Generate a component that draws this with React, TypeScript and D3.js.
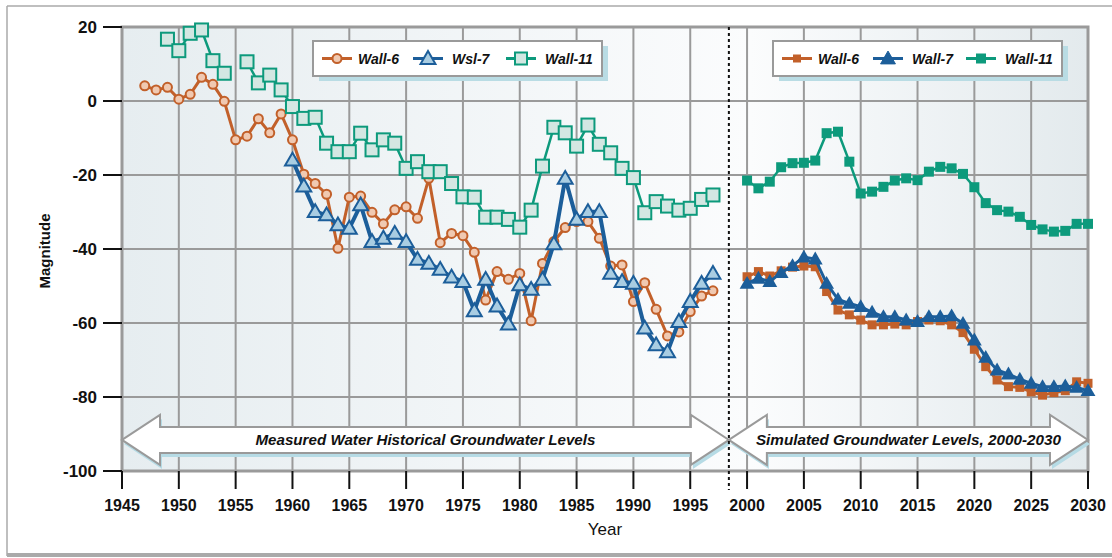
import React from "react";
import * as d3 from "d3";

// measured (historical) series
const histYears6 = [
  1947, 1948, 1949, 1950, 1951, 1952, 1953, 1954, 1955, 1956, 1957, 1958, 1959,
  1960, 1961, 1962, 1963, 1964, 1965, 1966, 1967, 1968, 1969, 1970, 1971, 1972,
  1973, 1974, 1975, 1976, 1977, 1978, 1979, 1980, 1981, 1982, 1983, 1984, 1985,
  1986, 1987, 1988, 1989, 1990, 1991, 1992, 1993, 1994, 1995, 1996, 1997,
];
const histWall6 = [
  4.1, 3.0, 3.7, 0.5, 1.8, 6.4, 4.5, -0.1, -10.5, -9.5, -4.8, -8.6, -3.5,
  -10.5, -19.8, -22.3, -25.2, -39.8, -26.0, -25.7, -30.1, -33.2, -29.4, -28.6,
  -31.7, -20.9, -38.3, -35.8, -36.4, -40.9, -53.8, -46.1, -48.2, -46.6, -59.4,
  -43.9, -38.0, -34.2, -32.6, -32.6, -37.1, -44.6, -44.3, -54.2, -49.1, -56.3,
  -63.5, -62.4, -56.9, -52.7, -51.3,
];

const histYears7 = [
  1960, 1961, 1962, 1963, 1964, 1965, 1966, 1967, 1968, 1969, 1970, 1971, 1972,
  1973, 1974, 1975, 1976, 1977, 1978, 1979, 1980, 1981, 1982, 1983, 1984, 1985,
  1986, 1987, 1988, 1989, 1990, 1991, 1992, 1993, 1994, 1995, 1996, 1997,
];
const histWall7 = [
  -16.0, -23.0, -29.9, -30.8, -33.5, -34.4, -28.1, -38.0, -37.1, -35.8, -38.0,
  -42.8, -43.9, -45.5, -47.6, -48.8, -56.7, -48.2, -55.4, -60.3, -49.7, -50.9,
  -48.2, -38.6, -20.9, -32.0, -29.9, -29.9, -46.6, -48.8, -49.3, -61.4, -65.9,
  -67.8, -59.6, -54.2, -49.3, -46.6,
];

const histYears11 = [
  1949, 1950, 1951, 1952, 1953, 1954, 1955, 1956, 1957, 1958, 1959, 1960, 1961,
  1962, 1963, 1964, 1965, 1966, 1967, 1968, 1969, 1970, 1971, 1972, 1973, 1974,
  1975, 1976, 1977, 1978, 1979, 1980, 1981, 1982, 1983, 1984, 1985, 1986, 1987,
  1988, 1989, 1990, 1991, 1992, 1993, 1994, 1995, 1996, 1997,
];
const histWall11: (number | null)[] = [
  16.7, 13.6, 18.3, 19.2, 10.9, 7.5, null, 10.6, 4.9, 7.0, 3.0, -1.5, -4.7,
  -4.4, -11.4, -13.7, -13.7, -8.7, -13.2, -10.5, -11.4, -18.2, -16.4, -19.1,
  -19.1, -22.3, -25.9, -26.0, -31.4, -31.4, -32.0, -34.1, -29.5, -17.6, -7.1,
  -8.6, -12.2, -6.5, -11.7, -14.0, -18.2, -20.7, -30.2, -27.2, -28.4, -29.5,
  -29.0, -26.6, -25.4,
];

// simulated series
const simYears = [
  2000, 2001, 2002, 2003, 2004, 2005, 2006, 2007, 2008, 2009, 2010, 2011, 2012,
  2013, 2014, 2015, 2016, 2017, 2018, 2019, 2020, 2021, 2022, 2023, 2024, 2025,
  2026, 2027, 2028, 2029, 2030,
];
const simWall6 = [
  -47.5, -46.1, -47.3, -45.9, -44.9, -44.6, -44.8, -51.5, -56.5, -57.8, -59.2,
  -60.5, -60.5, -60.3, -60.5, -59.6, -59.2, -59.4, -60.5, -62.6, -67.1, -71.8,
  -75.4, -77.2, -77.4, -78.6, -79.5, -78.8, -78.3, -75.9, -76.3,
];
const simWall7 = [
  -49.3, -47.9, -48.8, -46.4, -44.5, -42.2, -42.7, -49.3, -53.6, -54.7, -55.6,
  -57.1, -58.3, -58.3, -59.2, -59.6, -58.3, -58.3, -58.1, -60.1, -64.6, -69.3,
  -72.7, -73.8, -75.2, -76.3, -77.2, -77.2, -77.0, -77.4, -78.3,
];
const simWall11 = [
  -21.5, -23.6, -21.8, -17.9, -16.8, -16.7, -16.1, -8.7, -8.3, -16.4, -25.0,
  -24.5, -23.2, -21.5, -20.9, -21.4, -19.1, -17.8, -18.2, -19.7, -23.3, -27.6,
  -29.5, -29.9, -31.3, -33.5, -34.7, -35.3, -35.1, -33.2, -33.2,
];

const xTicks = [1945, 1950, 1955, 1960, 1965, 1970, 1975, 1980, 1985, 1990, 1995, 2000, 2005, 2010, 2015, 2020, 2025, 2030];
const yTicks = [20, 0, -20, -40, -60, -80, -100];
const histLegend = ["Wall-6", "Wsl-7", "Wall-11"];
const simLegend = ["Wall-6", "Wall-7", "Wall-11"];
const histLabel = "Measured Water Historical Groundwater Levels";
const simLabel = "Simulated Groundwater Levels, 2000-2030";
const breakYear = 1998.4;
const arrowLevel = -91.6;

const ORANGE = "#c2602a";
const BLUE = "#1c5e9a";
const TEAL = "#0d9a7c";
const GRID = "#9a9a9a";
const FONT = "'Liberation Sans', Arial, sans-serif";

type Pt = { x: number; v: number | null };
const zip = (xs: number[], vs: (number | null)[]): Pt[] => xs.map((x, i) => ({ x, v: vs[i] }));

const App: React.FC = () => {
  const W = 1112;
  const H = 558;
  const left = 122, right = 1088, top = 27, bottom = 471;

  const x = d3.scaleLinear().domain([1945, 2030]).range([left, right]);
  const y = d3.scaleLinear().domain([-100, 20]).range([bottom, top]);

  const line = d3
    .line<Pt>()
    .defined((d) => d.v !== null)
    .x((d) => x(d.x))
    .y((d) => y(d.v as number));

  const h6 = zip(histYears6, histWall6);
  const h7 = zip(histYears7, histWall7);
  const h11 = zip(histYears11, histWall11);
  const s6 = zip(simYears, simWall6);
  const s7 = zip(simYears, simWall7);
  const s11 = zip(simYears, simWall11);

  const tri = (cx: number, cy: number, s: number) =>
    `M${cx},${cy - s * 0.62}L${cx + s * 0.62},${cy + s * 0.45}L${cx - s * 0.62},${cy + s * 0.45}Z`;

  const arrow = (x0: number, x1: number, cy: number) => {
    const L = 38, hh = 13, HH = 25;
    return `M${x0},${cy}L${x0 + L},${cy - HH}L${x0 + L},${cy - hh}L${x1 - L},${cy - hh}L${x1 - L},${cy - HH}L${x1},${cy}L${x1 - L},${cy + HH}L${x1 - L},${cy + hh}L${x0 + L},${cy + hh}L${x0 + L},${cy + HH}Z`;
  };

  const cy = y(arrowLevel);
  const xb = x(breakYear);

  const legend = (lx: number, labels: string[], filled: boolean) => {
    const items = [
      { c: ORANGE, off: 9, tx: 45 },
      { c: BLUE, off: 100, tx: 139 },
      { c: TEAL, off: 193, tx: 232 },
    ];
    return (
      <g>
        <rect x={lx + 6} y={46} width={289} height={35} fill="#b9dce4" />
        <rect x={lx} y={41} width={289} height={35} fill="#fff" stroke="#9a9a9a" strokeWidth={2} />
        {items.map((it, i) => {
          const mx = lx + it.off + 15;
          const my = 58.5;
          return (
            <g key={i}>
              <line x1={lx + it.off} x2={lx + it.off + 30} y1={my} y2={my} stroke={it.c} strokeWidth={3} />
              {i === 0 &&
                (filled ? (
                  <rect x={mx - 4} y={my - 4} width={8} height={8} fill={ORANGE} />
                ) : (
                  <circle cx={mx} cy={my} r={4.5} fill="#f0c9b1" stroke={ORANGE} strokeWidth={2} />
                ))}
              {i === 1 && (
                <path d={tri(mx, my, 12)} fill={filled ? BLUE : "#a9cde2"} stroke={BLUE} strokeWidth={filled ? 1 : 2} />
              )}
              {i === 2 &&
                (filled ? (
                  <rect x={mx - 5} y={my - 5} width={10} height={10} fill={TEAL} />
                ) : (
                  <rect x={mx - 6} y={my - 6} width={12} height={12} fill="#d3e7e2" stroke={TEAL} strokeWidth={2} />
                ))}
              <text
                x={lx + it.tx}
                y={my + 5}
                fontFamily={FONT}
                fontStyle="italic"
                fontWeight="bold"
                fontSize={14}
                fill="#111"
              >
                {labels[i]}
              </text>
            </g>
          );
        })}
      </g>
    );
  };

  return (
    <svg width={W} height={H} style={{ position: "absolute", left: 0, top: 0 }}>
      <defs>
        <linearGradient id="bg" x1="0" x2="1" y1="0" y2="0">
          <stop offset="0" stopColor="#e6edf0" />
          <stop offset="0.65" stopColor="#fbfcfd" />
          <stop offset="1" stopColor="#e3eaed" />
        </linearGradient>
      </defs>
      <rect width={W} height={H} fill="#fff" />
      {/* outer frame */}
      <line x1={7} x2={W} y1={6} y2={6} stroke="#aaa" strokeWidth={1.5} />
      <line x1={7} x2={7} y1={6} y2={556} stroke="#aaa" strokeWidth={1.5} />
      <line x1={7} x2={W} y1={555} y2={555} stroke="#aaa" strokeWidth={4} />

      {/* plot background */}
      <rect x={left} y={top} width={right - left} height={bottom - top} fill="url(#bg)" />

      {/* grid */}
      {xTicks.slice(1, -1).map((t) => (
        <line key={"gx" + t} x1={x(t)} x2={x(t)} y1={top} y2={bottom} stroke={GRID} strokeWidth={2} />
      ))}
      {yTicks.slice(1, -1).map((t) => (
        <line key={"gy" + t} x1={left} x2={right} y1={y(t)} y2={y(t)} stroke={GRID} strokeWidth={2} />
      ))}
      <rect x={left} y={top} width={right - left} height={bottom - top} fill="none" stroke={GRID} strokeWidth={3} />

      {/* period arrows */}
      <path d={arrow(x(1945), xb, cy)} transform="translate(2,4)" fill="#b6dbe5" />
      <path d={arrow(xb, x(2030), cy)} transform="translate(2,4)" fill="#b6dbe5" />
      <path d={arrow(x(1945), xb, cy)} fill="#fff" stroke="#9a9a9a" strokeWidth={2} />
      <path d={arrow(xb, x(2030), cy)} fill="#fff" stroke="#9a9a9a" strokeWidth={2} />
      <text
        x={(x(1945) + xb) / 2}
        y={cy + 5}
        textAnchor="middle"
        fontFamily={FONT}
        fontStyle="italic"
        fontSize={14}
        fontWeight="bold"
        textLength={340}
        lengthAdjust="spacingAndGlyphs"
        fill="#111"
      >
        {histLabel}
      </text>
      <text
        x={(xb + x(2030)) / 2}
        y={cy + 5}
        textAnchor="middle"
        fontFamily={FONT}
        fontStyle="italic"
        fontSize={14}
        fontWeight="bold"
        textLength={305}
        lengthAdjust="spacingAndGlyphs"
        fill="#111"
      >
        {simLabel}
      </text>

      {/* divider */}
      <line x1={xb} x2={xb} y1={top} y2={490} stroke="#111" strokeWidth={2} strokeDasharray="3,3" />

      {/* historical series */}
      <path d={line(h6) || ""} fill="none" stroke={ORANGE} strokeWidth={3} />
      {h6.map((d, i) => (
        <circle key={"h6" + i} cx={x(d.x)} cy={y(d.v as number)} r={4.5} fill="#f0c9b1" stroke={ORANGE} strokeWidth={2} />
      ))}
      <path d={line(h7) || ""} fill="none" stroke={BLUE} strokeWidth={4} />
      {h7.map((d, i) => (
        <path key={"h7" + i} d={tri(x(d.x), y(d.v as number), 12)} fill="#a9cde2" stroke={BLUE} strokeWidth={2} />
      ))}
      <path d={line(h11) || ""} fill="none" stroke={TEAL} strokeWidth={2.5} />
      {h11
        .filter((d) => d.v !== null)
        .map((d, i) => (
          <rect key={"h11" + i} x={x(d.x) - 6.5} y={y(d.v as number) - 6.5} width={13} height={13} fill="#d3e7e2" stroke={TEAL} strokeWidth={2} />
        ))}

      {/* simulated series */}
      <path d={line(s6) || ""} fill="none" stroke={ORANGE} strokeWidth={3} />
      {s6.map((d, i) => (
        <rect key={"s6" + i} x={x(d.x) - 4.5} y={y(d.v as number) - 4.5} width={9} height={9} fill={ORANGE} />
      ))}
      <path d={line(s7) || ""} fill="none" stroke={BLUE} strokeWidth={3} />
      {s7.map((d, i) => (
        <path key={"s7" + i} d={tri(x(d.x), y(d.v as number), 12)} fill={BLUE} />
      ))}
      <path d={line(s11) || ""} fill="none" stroke={TEAL} strokeWidth={2.5} />
      {s11.map((d, i) => (
        <rect key={"s11" + i} x={x(d.x) - 5} y={y(d.v as number) - 5} width={10} height={10} fill={TEAL} />
      ))}

      {/* legends */}
      {legend(313, histLegend, false)}
      {legend(773, simLegend, true)}

      {/* y axis */}
      {yTicks.map((t) => (
        <g key={"yt" + t}>
          <line x1={103} x2={left} y1={y(t)} y2={y(t)} stroke="#111" strokeWidth={2} />
          <text
            x={97}
            y={y(t) + 6}
            textAnchor="end"
            fontFamily={FONT}
            fontWeight="bold"
            fontSize={17}
            fill="#111"
          >
            {t}
          </text>
        </g>
      ))}
      <text
        transform={`translate(50,${(top + bottom) / 2 + 2}) rotate(-90)`}
        textAnchor="middle"
        fontFamily={FONT}
        fontWeight="bold"
        fontSize={15}
        fill="#111"
      >
        Magnitude
      </text>

      {/* x axis */}
      {xTicks.map((t) => (
        <g key={"xt" + t}>
          <line x1={x(t)} x2={x(t)} y1={bottom} y2={489} stroke="#111" strokeWidth={2} />
          <text
            x={x(t)}
            y={511}
            textAnchor="middle"
            fontFamily={FONT}
            fontWeight="bold"
            fontSize={16}
            fill="#111"
          >
            {t}
          </text>
        </g>
      ))}
      <text x={605} y={535} textAnchor="middle" fontFamily={FONT} fontSize={17} fill="#111">
        Year
      </text>
    </svg>
  );
};

export default App;
